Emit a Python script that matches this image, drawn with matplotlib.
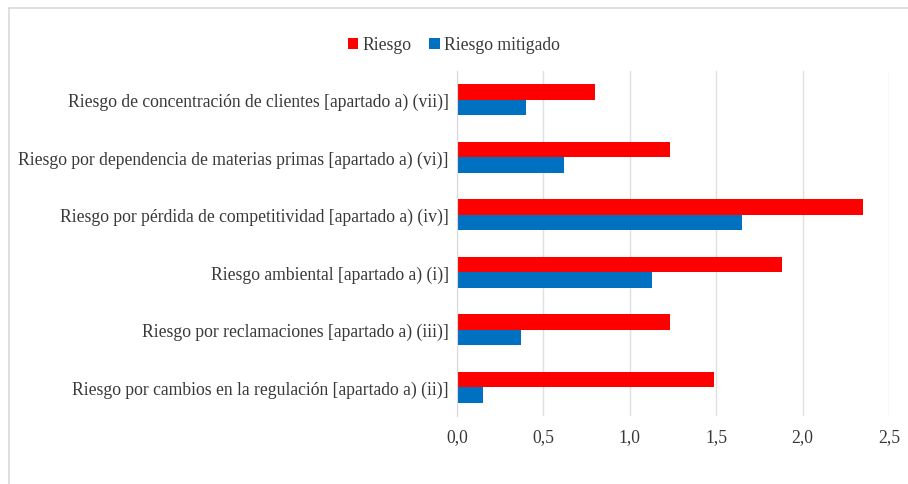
import matplotlib
matplotlib.use("Agg")
import matplotlib.pyplot as plt
from matplotlib.lines import Line2D
from matplotlib.ticker import FuncFormatter
import numpy as np

plt.rcParams['font.family'] = ['Liberation Serif', 'DejaVu Serif']

categories = [
    "Riesgo de concentración de clientes [apartado a) (vii)]",
    "Riesgo por dependencia de materias primas [apartado a) (vi)]",
    "Riesgo por pérdida de competitividad [apartado a) (iv)]",
    "Riesgo ambiental [apartado a) (i)]",
    "Riesgo por reclamaciones [apartado a) (iii)]",
    "Riesgo por cambios en la regulación [apartado a) (ii)]",
]
riesgo = [0.80, 1.23, 2.35, 1.88, 1.23, 1.49]
riesgo_mitigado = [0.40, 0.62, 1.65, 1.13, 0.37, 0.15]
xticks = [0.0, 0.5, 1.0, 1.5, 2.0, 2.5]

W, H = 908, 485
fig = plt.figure(figsize=(W / 100, H / 100), dpi=100)
ax = fig.add_axes([457 / W, 1 - 417 / H, (889 - 457) / W, (417 - 72) / H])

y = np.arange(len(categories))[::-1].astype(float)
h = 0.27
ax.barh(y + h / 2, riesgo, height=h, color='#FF0000', label='Riesgo', zorder=3)
ax.barh(y - h / 2, riesgo_mitigado, height=h, color='#0070C0', label='Riesgo mitigado', zorder=3)

ax.set_xlim(0, 2.5)
ax.set_ylim(-0.5, len(categories) - 0.5)
ax.set_xticks(xticks)
ax.xaxis.set_major_formatter(FuncFormatter(lambda v, p: f"{v:.1f}".replace('.', ',')))
ax.set_yticks(y)
ax.set_yticklabels(categories)
ax.tick_params(axis='both', length=0, labelsize=12.7, colors='#383838')
ax.tick_params(axis='x', pad=9)
ax.tick_params(axis='y', pad=6)
ax.grid(axis='x', color='#E0E0E0', linewidth=1, zorder=0)
for s in ['top', 'right', 'bottom']:
    ax.spines[s].set_visible(False)
ax.spines['left'].set_color('#D9D9D9')
ax.spines['left'].set_zorder(4)

fig.legend(loc='center', bbox_to_anchor=(454 / W, 1 - 46 / H), ncol=2, frameon=False,
           fontsize=12.7, handlelength=0.6, handleheight=0.6, handletextpad=0.25,
           columnspacing=1.0, labelcolor='#383838')

# outer border (left and top)
fig.add_artist(Line2D([8.5 / W, 8.5 / W], [0, 1 - 8.5 / H], transform=fig.transFigure,
                      color='#D9D9D9', linewidth=1.2))
fig.add_artist(Line2D([8.5 / W, 1], [1 - 8.5 / H, 1 - 8.5 / H], transform=fig.transFigure,
                      color='#D9D9D9', linewidth=1.2))

fig.savefig('out.png', dpi=100)
